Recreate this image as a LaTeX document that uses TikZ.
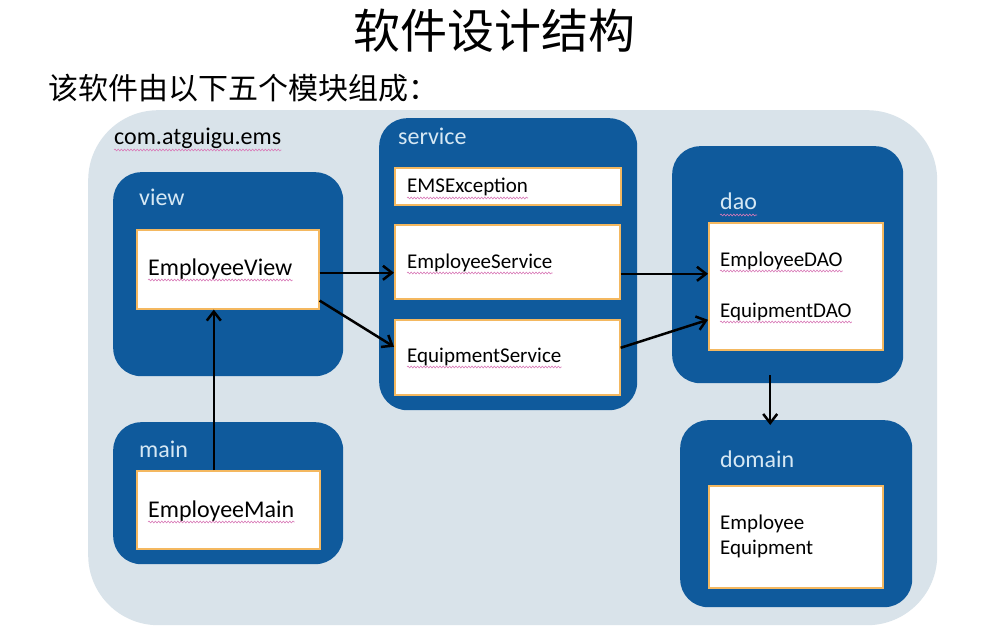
\documentclass[tikz,border=0pt]{standalone}
\usepackage{fontspec}
\setmainfont{Carlito}
\newfontfamily\cjk{Noto Sans CJK SC}
\usetikzlibrary{arrows.meta,decorations.pathmorphing}
\definecolor{bgpkg}{HTML}{D9E3EA}
\definecolor{modblue}{HTML}{0F5A9C}
\definecolor{boxorange}{HTML}{F4B860}
\definecolor{lbl}{HTML}{D6E8F4}
\definecolor{squigc}{HTML}{D97AB8}
\begin{document}
\begin{tikzpicture}[x=1pt,y=-1pt,
 pkg/.style={fill=bgpkg, rounded corners=70pt, inner sep=0, anchor=north west},
 modbox/.style={fill=modblue, rounded corners=28pt, inner sep=0, anchor=north west},
 classbox/.style={fill=white, draw=boxorange, line width=1.6pt, inner sep=0, anchor=north west},
 lbltext/.style={text=lbl, font=\fontsize{24}{28}\selectfont, anchor=base west, inner sep=0},
 bigtext/.style={text=black, font=\fontsize{24}{28}\selectfont, anchor=base west, inner sep=0},
 smalltext/.style={text=black, font=\fontsize{21}{25}\selectfont, anchor=base west, inner sep=0},
 squig/.style={draw=squigc, line width=0.6pt, decorate, decoration={snake, amplitude=0.9pt, segment length=3.2pt}},
 arr/.style={draw=black, line width=2.5pt, -{Straight Barb[length=9pt,width=14pt]}}
]
\useasboundingbox[fill=white] (0,0) rectangle (993,639);

% title
\node[font=\cjk\fontsize{47}{50}\selectfont, anchor=base, inner sep=0] (title) at (494,49) {软件设计结构};
\node[font=\cjk\fontsize{30}{33}\selectfont, anchor=base west, inner sep=0] (sub) at (48,100) {该软件由以下五个模块组成：};

% package background
\node[pkg, minimum width=849pt, minimum height=515pt] (pkg) at (88,110) {};
\node[bigtext] (tcom) at (114,145) {com.atguigu.ems};

% module boxes
\node[modbox, minimum width=230pt, minimum height=204pt] (view) at (113,172) {};
\node[modbox, minimum width=230pt, minimum height=142pt] (main) at (113,422) {};
\node[modbox, minimum width=258pt, minimum height=292pt] (service) at (379,118) {};
\node[modbox, minimum width=231pt, minimum height=237pt] (dao) at (672,146) {};
\node[modbox, minimum width=232pt, minimum height=187pt] (domain) at (680,420) {};

% module labels
\node[lbltext] (lview) at (139,206) {view};
\node[lbltext] (lmain) at (139,457) {main};
\node[lbltext] (lservice) at (398,145) {service};
\node[lbltext] (ldao) at (720,210) {dao};
\node[lbltext] (ldomain) at (720,467) {domain};

% class boxes
\node[classbox, minimum width=182pt, minimum height=79pt] (ev) at (136,229) {};
\node[classbox, minimum width=183pt, minimum height=78pt] (em) at (136,470) {};
\node[classbox, minimum width=226pt, minimum height=37pt] (ems) at (394,167) {};
\node[classbox, minimum width=225pt, minimum height=74pt] (es) at (394,224) {};
\node[classbox, minimum width=225pt, minimum height=75pt] (eqs) at (394,319) {};
\node[classbox, minimum width=174pt, minimum height=127pt] (daob) at (708,222) {};
\node[classbox, minimum width=174pt, minimum height=102pt] (domb) at (708,485) {};

% class texts
\node[bigtext] (tev) at (148,275) {EmployeeView};
\node[bigtext] (tem) at (148,517) {EmployeeMain};
\node[smalltext] (tems) at (407,193) {EMSException};
\node[smalltext] (tes) at (407,268) {EmployeeService};
\node[smalltext] (teqs) at (407,362) {EquipmentService};
\node[smalltext] (tedao) at (720,266) {EmployeeDAO};
\node[smalltext] (teqdao) at (720,317) {EquipmentDAO};
\node[smalltext] (temp) at (720,529) {Employee};
\node[smalltext] (teq) at (720,554) {Equipment};

% spell-check squiggles
\foreach \t in {tcom,tev,tem,tems,tes,teqs,tedao,teqdao,ldao}
  \draw[squig] ([yshift=-5pt]\t.base west) -- ([yshift=-5pt]\t.base east);

% connectors
\draw[arr] ([yshift=-3.5pt]ev.east) -- ([yshift=-11pt]es.west);
\draw[arr] ([yshift=9pt]ev.south east) -- ([yshift=10.5pt]eqs.west);
\draw[arr] ([xshift=-14.5pt]em.north) -- ([xshift=-14pt]ev.south);
\draw[arr] ([yshift=-12pt]es.east) -- ([yshift=12.5pt]daob.west);
\draw[arr] ([yshift=9.5pt]eqs.east) -- ([yshift=-33.5pt]daob.west);
\draw[arr] ([xshift=-17.5pt,yshift=8pt]dao.south) -- ([xshift=-26pt,yshift=-5pt]domain.north);
\end{tikzpicture}
\end{document}
